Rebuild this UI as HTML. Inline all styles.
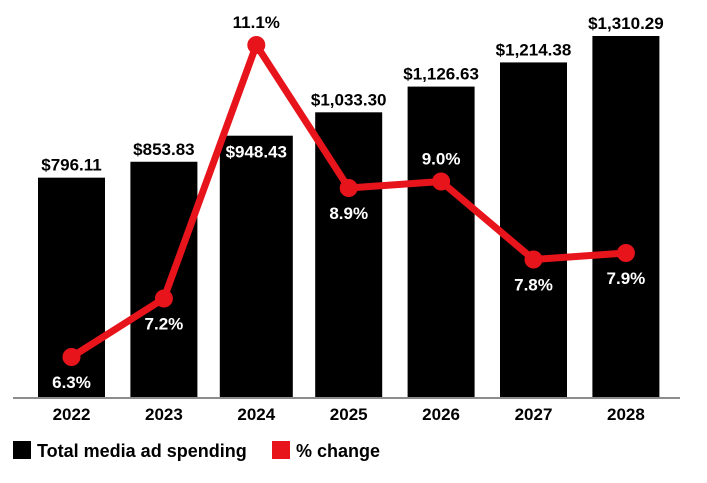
<!DOCTYPE html>
<html><head><meta charset="utf-8"><style>
body{margin:0;background:#fff;width:707px;height:478px;overflow:hidden;font-family:"Liberation Sans",Arial,sans-serif}
svg text{font-family:"Liberation Sans",Arial,sans-serif;font-weight:bold}
</style></head><body>
<svg id="c" width="707" height="478"></svg>
<script>
const years=["2022","2023","2024","2025","2026","2027","2028"];
const spending=[796.11,853.83,948.43,1033.30,1126.63,1214.38,1310.29];
const spendingLabels=["$796.11","$853.83","$948.43","$1,033.30","$1,126.63","$1,214.38","$1,310.29"];
const pctChange=[6.3,7.2,11.1,8.9,9.0,7.8,7.9];
const pctLabels=["6.3%","7.2%","11.1%","8.9%","9.0%","7.8%","7.9%"];
const NS="http://www.w3.org/2000/svg";
const svg=document.getElementById('c');
const base=397,barW=67;
const xC=i=>71.5+i*92.4;
const yBar=v=>base-v*(361/1310.29);
const yPct=v=>357-(v-6.3)*65;
function mk(t,a,txt){const e=document.createElementNS(NS,t);for(const k in a)e.setAttribute(k,a[k]);if(txt!==undefined)e.textContent=txt;svg.appendChild(e);return e;}
years.forEach((y,i)=>{
 const top=yBar(spending[i]);
 const w=i===2?73:barW;
 const r=mk('rect',{x:xC(i)-w/2,y:top,width:w,height:base-top,fill:'#000'});
 
 
 const inside=i===2;
 const t=mk('text',{x:xC(i),y:inside?top+22:top-7,'text-anchor':'middle','font-size':17,fill:inside?'#fff':'#000'},spendingLabels[i]);
 
 
 const xl=mk('text',{x:xC(i),y:420,'text-anchor':'middle','font-size':17,fill:'#000'},y);
 
 
});
const ax=mk('line',{x1:13,x2:680,y1:398,y2:398,stroke:'#666','stroke-width':1.5});


const pl=mk('polyline',{points:pctChange.map((v,i)=>xC(i)+','+yPct(v)).join(' '),fill:'none',stroke:'#e8141c','stroke-width':7,'stroke-linejoin':'round'});


const above=[false,false,true,false,true,false,false];
pctChange.forEach((v,i)=>{
 const c=mk('circle',{cx:xC(i),cy:yPct(v),r:9,fill:'#e8141c'});
 
 
 const ab=above[i];
 const t=mk('text',{x:xC(i),y:ab?yPct(v)-17:yPct(v)+31,'text-anchor':'middle','font-size':17,fill:i===2?'#000':'#fff'},pctLabels[i]);
 
 
});
const l1=mk('rect',{x:13,y:441,width:18,height:18,fill:'#000'});


const l1t=mk('text',{x:37,y:457,'font-size':18,fill:'#000'},'Total media ad spending');


const l2=mk('rect',{x:272,y:441,width:18,height:18,fill:'#e8141c'});


const l2t=mk('text',{x:296,y:457,'font-size':18,fill:'#000'},'% change');


</script>
</body></html>
